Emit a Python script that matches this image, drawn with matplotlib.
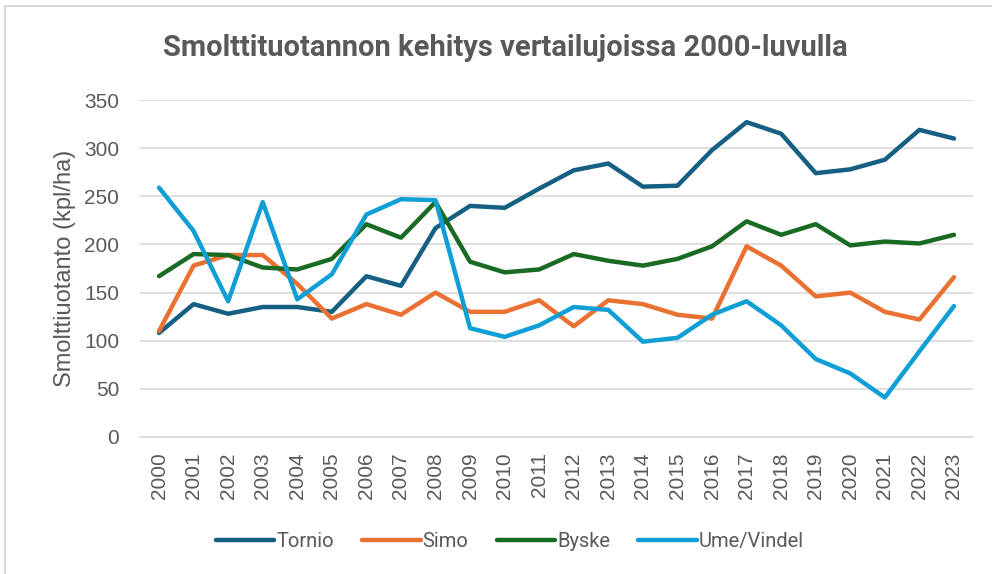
import matplotlib.pyplot as plt
from matplotlib.patches import Rectangle

# data
years = [str(y) for y in range(2000, 2024)]
tornio = [108, 138, 128, 135, 135, 130, 167, 157, 217, 240, 238, 258,
          277, 284, 260, 261, 298, 327, 315, 274, 278, 288, 319, 310]
simo = [110, 178, 189, 189, 159, 123, 138, 127, 150, 130, 130, 142,
        115, 142, 138, 127, 123, 198, 178, 146, 150, 130, 122, 166]
byske = [167, 190, 189, 176, 174, 185, 221, 207, 244, 182, 171, 174,
         190, 183, 178, 185, 198, 224, 210, 221, 199, 203, 201, 210]
ume = [259, 214, 141, 244, 143, 169, 231, 247, 246, 113, 104, 116,
       135, 132, 99, 103, 127, 141, 116, 81, 66, 41, 89, 136]

series = [('Tornio', tornio, '#156082'),
          ('Simo', simo, '#E97132'),
          ('Byske', byske, '#196B24'),
          ('Ume/Vindel', ume, '#0F9ED5')]

plt.rcParams['font.family'] = ['Liberation Sans', 'DejaVu Sans']
text_col = '#595959'

fig = plt.figure(figsize=(9.92, 5.74), dpi=100)
ax = fig.add_axes([140 / 992, 1 - 437 / 574, 833 / 992, 337 / 574])

# chart frame
fig.patches.append(Rectangle((5 / 992, -0.01), 1.0, 1 - 6 / 574 + 0.01,
                             transform=fig.transFigure, fill=False,
                             edgecolor='#D9D9D9', linewidth=1.5))

x = list(range(len(years)))
for name, vals, col in series:
    ax.plot(x, vals, color=col, linewidth=3.2, label=name,
            solid_capstyle='round', solid_joinstyle='round')

ax.set_ylim(0, 350)
ax.set_xlim(-0.55, len(years) - 0.45)
ax.set_yticks(range(0, 351, 50))
ax.set_xticks(x)
ax.set_xticklabels(years, rotation=90)
ax.grid(axis='y', color='#D9D9D9', linewidth=1.2)
ax.set_axisbelow(True)
for s in ['top', 'right', 'left']:
    ax.spines[s].set_visible(False)
ax.spines['bottom'].set_color('#D9D9D9')
ax.spines['bottom'].set_linewidth(1.2)
ax.tick_params(axis='both', length=0, labelsize=15, colors=text_col)
ax.tick_params(axis='y', pad=15)
ax.tick_params(axis='x', pad=11)
ax.set_ylabel('Smolttiuotanto (kpl/ha)', fontsize=17, color=text_col, labelpad=6)

fig.text(0.509, 1 - 48 / 574, 'Smolttituotannon kehitys vertailujoissa 2000-luvulla',
         ha='center', va='center', fontsize=21, fontweight='bold', color=text_col,
         family='Roboto')

ax.legend(loc='center', bbox_to_anchor=(0.444, -0.31), ncol=4, frameon=False,
          prop={'family': 'Roboto', 'size': 14.5}, labelcolor=text_col,
          handlelength=2.9, handletextpad=0.1, columnspacing=1.4)

plt.savefig('out.png', dpi=100)
